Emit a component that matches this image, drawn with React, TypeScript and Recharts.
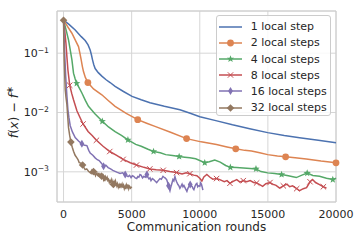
import React from 'react';
import { LineChart, Line, XAxis, YAxis, CartesianGrid, Legend, ReferenceArea } from 'recharts';

const XTICKS = [0, 5000, 10000, 15000, 20000];
const YTICKS = [0.001, 0.01, 0.1];
const X_DOMAIN: [number, number] = [-480, 20000];
const Y_DOMAIN: [number, number] = [0.00031, 0.514];

const FONT = '"DejaVu Sans", sans-serif';
const TEXT = '#262626';
const GRID = '#d6d6d6';

// [communication round, f(x) - f*]
const oneStep: [number, number][] = [
  [0, 0.36], [400, 0.305], [856, 0.246], [1300, 0.19], [1588, 0.163], [1800, 0.138], [1954, 0.113],
  [2050, 0.093], [2123, 0.078], [2220, 0.064], [2320, 0.055], [2550, 0.047], [2811, 0.041], [3100, 0.036],
  [3418, 0.032], [3784, 0.0275], [4400, 0.0226], [5029, 0.0187], [5700, 0.0164], [6346, 0.0146],
  [7400, 0.0127], [8542, 0.0111], [9300, 0.0097], [10006, 0.0085], [11177, 0.0073], [12400, 0.0062],
  [13666, 0.00534], [14984, 0.00458], [16200, 0.0041], [17326, 0.00377], [18700, 0.0034], [20000, 0.0031],
];

const twoSteps: [number, number][] = [
  [0, 0.36], [300, 0.28], [615, 0.217], [900, 0.16], [1098, 0.129], [1200, 0.1], [1296, 0.077],
  [1380, 0.06], [1464, 0.049], [1600, 0.039], [1786, 0.032], [2200, 0.025], [2811, 0.0199], [3300, 0.0158],
  [3784, 0.0127], [4600, 0.0097], [5446, 0.00757], [6100, 0.0066], [6712, 0.00584], [7900, 0.0046],
  [9033, 0.00363], [10100, 0.0032], [11229, 0.00288], [12000, 0.00262], [12642, 0.00244], [13300, 0.0023],
  [13800, 0.00225], [14400, 0.0021], [14984, 0.00195], [15700, 0.00185], [16302, 0.00179], [17000, 0.00172],
  [17817, 0.00165], [18900, 0.00152], [20000, 0.00142],
];
const twoStepsMarks = [1786, 5446, 9033, 12642, 16302, 20000];

const fourSteps: [number, number][] = [
  [0, 0.36], [200, 0.24], [366, 0.167], [500, 0.11], [615, 0.077], [732, 0.046], [850, 0.037],
  [966, 0.031], [1150, 0.026], [1347, 0.0213], [1600, 0.016], [1830, 0.0127], [2300, 0.0095],
  [2846, 0.0071], [3300, 0.0057], [3784, 0.00475], [4250, 0.0041], [4726, 0.00345], [5300, 0.0029],
  [5700, 0.0027], [6200, 0.0024], [6606, 0.0022], [7100, 0.0021], [7500, 0.00195], [8000, 0.00188],
  [8486, 0.00181], [8900, 0.00176], [9274, 0.00172], [9700, 0.00166], [10366, 0.00142], [10700, 0.00148],
  [11100, 0.00158], [11500, 0.00146], [11900, 0.00128], [12246, 0.00119], [12700, 0.00118],
  [13200, 0.00116], [13700, 0.00114], [14126, 0.00112], [14500, 0.00101], [14984, 0.00096],
  [15500, 0.00094], [16006, 0.0009], [16500, 0.00086], [17085, 0.0008], [17500, 0.00088],
  [17886, 0.00095], [18300, 0.00087], [18790, 0.00084], [19300, 0.00078], [19766, 0.00074], [20000, 0.00078],
];
const fourStepsMarks = [966, 2846, 4726, 6606, 8486, 10366, 12246, 14126, 16006, 17886, 19766];

const eightSteps: [number, number][] = [
  [0, 0.36], [80, 0.25], [176, 0.147], [250, 0.085], [322, 0.052], [454, 0.0288], [600, 0.021],
  [732, 0.0164], [981, 0.0107], [1200, 0.0083], [1434, 0.0064], [1800, 0.0048], [2100, 0.0041],
  [2414, 0.0034], [2900, 0.0027], [3394, 0.0022], [3900, 0.0019], [4374, 0.00162], [4900, 0.00142],
  [5354, 0.0013], [5900, 0.00119], [6334, 0.00112], [6800, 0.00108], [7314, 0.00106], [7800, 0.00101],
  [8294, 0.00097], [8700, 0.00092], [9000, 0.00096], [9274, 0.00093], [9550, 0.00088], [9787, 0.00086],
  [10000, 0.00078], [10153, 0.0007], [10300, 0.00082], [10519, 0.0009], [10750, 0.00081], [10958, 0.00075],
  [11234, 0.00077], [11470, 0.00074], [11800, 0.00068], [12000, 0.00071], [12214, 0.00064],
  [12450, 0.00069], [12715, 0.00074], [12950, 0.00067], [13194, 0.00071], [13447, 0.00068],
  [13700, 0.00071], [13950, 0.00066], [14174, 0.00065], [14400, 0.00061], [14618, 0.00057],
  [14850, 0.00063], [15154, 0.00066], [15350, 0.00062], [15600, 0.00059], [15862, 0.00053],
  [16134, 0.00058], [16400, 0.00062], [16600, 0.00056], [16814, 0.00058], [17114, 0.00052],
  [17326, 0.00048], [17600, 0.00052], [17839, 0.00054], [18094, 0.00068], [18278, 0.00074],
  [18500, 0.00066], [18790, 0.00061], [19074, 0.00056], [19303, 0.00053],
];
const eightStepsMarks = [454, 1434, 2414, 3394, 4374, 5354, 6334, 7314, 8294, 9274, 10254, 11234, 12214,
  13194, 14174, 15154, 16134, 17114, 18094, 19074];

const sixteenSteps: [number, number][] = [
  [0, 0.36], [40, 0.2], [73, 0.113], [120, 0.065], [161, 0.04], [249, 0.0187], [322, 0.0111], [400, 0.0081],
  [490, 0.006], [650, 0.0047], [856, 0.00377], [1100, 0.0033], [1347, 0.00296], [1550, 0.0028],
  [1713, 0.00277], [1850, 0.0023], [1954, 0.00208], [2150, 0.0019], [2320, 0.00172], [2480, 0.0016],
  [2613, 0.00155], [2780, 0.0014], [2937, 0.00124], [3100, 0.0013], [3272, 0.00118], [3450, 0.00112],
  [3620, 0.00106], [3784, 0.00102], [3950, 0.00098], [4150, 0.00094], [4330, 0.00096], [4527, 0.0009],
  [4630, 0.00086], [4740, 0.00083], [4850, 0.00087], [4956, 0.0008], [5050, 0.00086], [5150, 0.00084],
  [5260, 0.00079], [5373, 0.00077], [5450, 0.00083], [5530, 0.00081], [5610, 0.0009], [5688, 0.00088],
  [5800, 0.00079], [5900, 0.00084], [6000, 0.00081], [6117, 0.0009], [6200, 0.00081], [6270, 0.00076],
  [6350, 0.00079], [6420, 0.00071], [6520, 0.00077], [6620, 0.00074], [6720, 0.0007], [6837, 0.00066],
  [6950, 0.00071], [7078, 0.00077], [7180, 0.00075], [7298, 0.00084], [7380, 0.00081], [7450, 0.00079],
  [7569, 0.00074], [7640, 0.00066], [7707, 0.00058], [7760, 0.00052], [7810, 0.00048], [7870, 0.00055],
  [7920, 0.0006], [8030, 0.00074], [8100, 0.0007], [8177, 0.00083], [8240, 0.00074], [8300, 0.00068],
  [8396, 0.00061], [8470, 0.00058], [8542, 0.00053], [8620, 0.00057], [8700, 0.00062], [8770, 0.00056],
  [8835, 0.00059], [8950, 0.00052], [9055, 0.00047], [9120, 0.00052], [9180, 0.00055], [9240, 0.0006],
  [9297, 0.00061], [9380, 0.00058], [9450, 0.00056], [9510, 0.00052], [9567, 0.0005], [9650, 0.00057],
  [9720, 0.00062], [9787, 0.00064], [9850, 0.00056], [9900, 0.00058], [10006, 0.00057], [10060, 0.00065],
  [10120, 0.00062], [10180, 0.00055], [10230, 0.00049],
];
const sixteenStepsMarks = [1347, 2937, 4527, 6117, 7707, 9297];

const thirtyTwoSteps: [number, number][] = [
  [0, 0.36], [15, 0.2], [30, 0.12], [50, 0.077], [90, 0.04], [124, 0.0242], [180, 0.018], [249, 0.0135],
  [300, 0.009], [366, 0.00556], [450, 0.0041], [540, 0.00317], [640, 0.0026], [732, 0.00222], [850, 0.0019],
  [981, 0.00172], [1070, 0.0016], [1149, 0.00143], [1280, 0.0014], [1400, 0.0013], [1500, 0.00118],
  [1588, 0.00109], [1700, 0.00112], [1830, 0.00102], [1930, 0.00098], [2028, 0.00094], [2070, 0.00103],
  [2110, 0.00097], [2150, 0.00104], [2200, 0.00101], [2250, 0.00092], [2300, 0.00095], [2350, 0.00086],
  [2394, 0.0009], [2450, 0.00096], [2500, 0.00088], [2560, 0.00092], [2613, 0.00082], [2660, 0.0009],
  [2700, 0.00086], [2750, 0.00091], [2800, 0.00084], [2850, 0.0008], [2900, 0.00085], [2940, 0.00074],
  [2979, 0.00078], [3030, 0.0007], [3080, 0.00082], [3140, 0.00076], [3199, 0.00081], [3250, 0.00072],
  [3300, 0.00075], [3360, 0.00066], [3418, 0.00071], [3480, 0.00065], [3540, 0.00074], [3600, 0.00067],
  [3660, 0.00061], [3710, 0.00068], [3760, 0.00063], [3810, 0.0007], [3858, 0.00064], [3910, 0.00058],
  [3960, 0.00063], [4020, 0.00055], [4077, 0.0006], [4130, 0.00053], [4180, 0.00063], [4240, 0.00057],
  [4297, 0.00062], [4350, 0.00054], [4400, 0.00059], [4460, 0.00052], [4516, 0.00057], [4570, 0.00051],
  [4620, 0.0006], [4680, 0.00055], [4736, 0.00061], [4790, 0.00052], [4850, 0.00057], [4920, 0.00053],
  [5007, 0.00056],
];
const thirtyTwoStepsMarks = [0, 540, 1400, 2200, 2800, 3660];

type Shape = 'none' | 'circle' | 'star' | 'x' | 'thin' | 'diamond';

const SERIES: { name: string; color: string; shape: Shape; points: [number, number][]; marks: number[] }[] = [
  { name: '1 local step', color: '#4C72B0', shape: 'none', points: oneStep, marks: [] },
  { name: '2 local steps', color: '#DD8452', shape: 'circle', points: twoSteps, marks: twoStepsMarks },
  { name: '4 local steps', color: '#55A868', shape: 'star', points: fourSteps, marks: fourStepsMarks },
  { name: '8 local steps', color: '#C44E52', shape: 'x', points: eightSteps, marks: eightStepsMarks },
  { name: '16 local steps', color: '#8172B3', shape: 'thin', points: sixteenSteps, marks: sixteenStepsMarks },
  { name: '32 local steps', color: '#937860', shape: 'diamond', points: thirtyTwoSteps, marks: thirtyTwoStepsMarks },
];

const starPoints = (cx: number, cy: number, R: number, r: number) => {
  const pts: string[] = [];
  for (let i = 0; i < 10; i++) {
    const rad = i % 2 === 0 ? R : r;
    const a = -Math.PI / 2 + (i * Math.PI) / 5;
    pts.push(`${cx + rad * Math.cos(a)},${cy + rad * Math.sin(a)}`);
  }
  return pts.join(' ');
};

const Marker = ({ shape, cx, cy, color }: { shape: Shape; cx: number; cy: number; color: string }) => {
  switch (shape) {
    case 'circle':
      return <circle cx={cx} cy={cy} r={3.4} fill={color} />;
    case 'star':
      return <polygon points={starPoints(cx, cy, 3.8, 1.6)} fill={color} />;
    case 'x':
      return (
        <g stroke={color} strokeWidth={1}>
          <line x1={cx - 2.7} y1={cy - 2.7} x2={cx + 2.7} y2={cy + 2.7} />
          <line x1={cx - 2.7} y1={cy + 2.7} x2={cx + 2.7} y2={cy - 2.7} />
        </g>
      );
    case 'thin':
      return <polygon points={`${cx},${cy - 4} ${cx + 2.4},${cy} ${cx},${cy + 4} ${cx - 2.4},${cy}`} fill={color} />;
    case 'diamond':
      return <polygon points={`${cx},${cy - 3.8} ${cx + 3.8},${cy} ${cx},${cy + 3.8} ${cx - 3.8},${cy}`} fill={color} />;
    default:
      return null;
  }
};

const makeDot = (shape: Shape, color: string, marks: number[]) => (props: any) => {
  const { cx, cy, payload, index } = props;
  if (!marks.includes(payload.x) || cx == null || cy == null) return <g key={`d-${index}`} />;
  return (
    <g key={`d-${index}`}>
      <Marker shape={shape} cx={cx} cy={cy} color={color} />
    </g>
  );
};

const YTick = (props: any) => {
  const { x, y, payload } = props;
  const exp = Math.round(Math.log10(payload.value));
  return (
    <text x={x} y={y} dy="0.355em" textAnchor="end" fill={TEXT} fontSize={11} fontFamily={FONT}>
      10<tspan dy={-4.5} fontSize={7.7}>{`\u2212${-exp}`}</tspan>
    </text>
  );
};

const renderLegend = () => (
  <div
    style={{
      boxSizing: 'border-box',
      width: 115,
      height: 101,
      paddingTop: 2.6,
      border: '1px solid #cccccc',
      borderRadius: 3,
      background: 'rgba(255,255,255,0.85)',
      fontFamily: FONT,
      fontSize: 11,
      color: TEXT,
    }}
  >
    {SERIES.map((s) => (
      <div key={s.name} style={{ display: 'flex', alignItems: 'center', height: 16.2, paddingLeft: 2 }}>
        <svg width={23} height={16} style={{ marginRight: 8.7, flex: 'none' }}>
          <line x1={0} y1={8} x2={23} y2={8} stroke={s.color} strokeWidth={1.5} />
          <Marker shape={s.shape} cx={11.5} cy={8} color={s.color} />
        </svg>
        <span style={{ whiteSpace: 'nowrap' }}>{s.name}</span>
      </div>
    ))}
  </div>
);

const XLabel = () => (
  <text x={196.5} y={231} textAnchor="middle" fill={TEXT} fontSize={12} fontFamily={FONT}>
    Communication rounds
  </text>
);

const YLabel = () => (
  <text
    transform="translate(17.5,112) rotate(-90)"
    textAnchor="middle"
    fill={TEXT}
    fontSize={12.5}
    fontFamily={FONT}
  >
    <tspan fontStyle="italic">f</tspan>(<tspan fontStyle="italic">x</tspan>)
    {' \u2212 '}
    <tspan fontStyle="italic">f</tspan>
    <tspan dy={-5} fontSize={9.5}>{'\u2217'}</tspan>
  </text>
);

export default function App() {
  return (
    <div style={{ width: 360, height: 240, background: '#fff', position: 'relative' }}>
      <style>{'body{margin:0}'}</style>
      <LineChart width={360} height={240} margin={{ top: 11, right: 24, bottom: 0, left: 0 }}>
        <CartesianGrid stroke={GRID} strokeWidth={1} />
        <XAxis
          dataKey="x"
          type="number"
          domain={X_DOMAIN}
          ticks={XTICKS}
          height={38}
          axisLine={false}
          tickLine={false}
          tick={{ fill: TEXT, fontSize: 11, fontFamily: FONT }}
          label={{ content: <XLabel /> }}
        />
        <YAxis
          dataKey="y"
          type="number"
          scale="log"
          domain={Y_DOMAIN}
          ticks={YTICKS}
          width={57}
          axisLine={false}
          tickLine={false}
          tick={<YTick />}
          label={{ content: <YLabel /> }}
        />
        <ReferenceArea
          x1={X_DOMAIN[0]}
          x2={X_DOMAIN[1]}
          y1={Y_DOMAIN[0]}
          y2={Y_DOMAIN[1]}
          fill="none"
          stroke="#cccccc"
          strokeWidth={1}
        />
        {SERIES.map((s) => (
          <Line
            key={s.name}
            name={s.name}
            data={s.points.map(([x, y]) => ({ x, y }))}
            dataKey="y"
            type="linear"
            stroke={s.color}
            strokeWidth={1.5}
            dot={makeDot(s.shape, s.color, s.marks)}
            activeDot={false}
            isAnimationActive={false}
          />
        ))}
        <Legend
          layout="vertical"
          align="center"
          verticalAlign="middle"
          content={renderLegend}
          wrapperStyle={{ left: 216, top: 15, width: 115, height: 101 }}
        />
      </LineChart>
    </div>
  );
}
